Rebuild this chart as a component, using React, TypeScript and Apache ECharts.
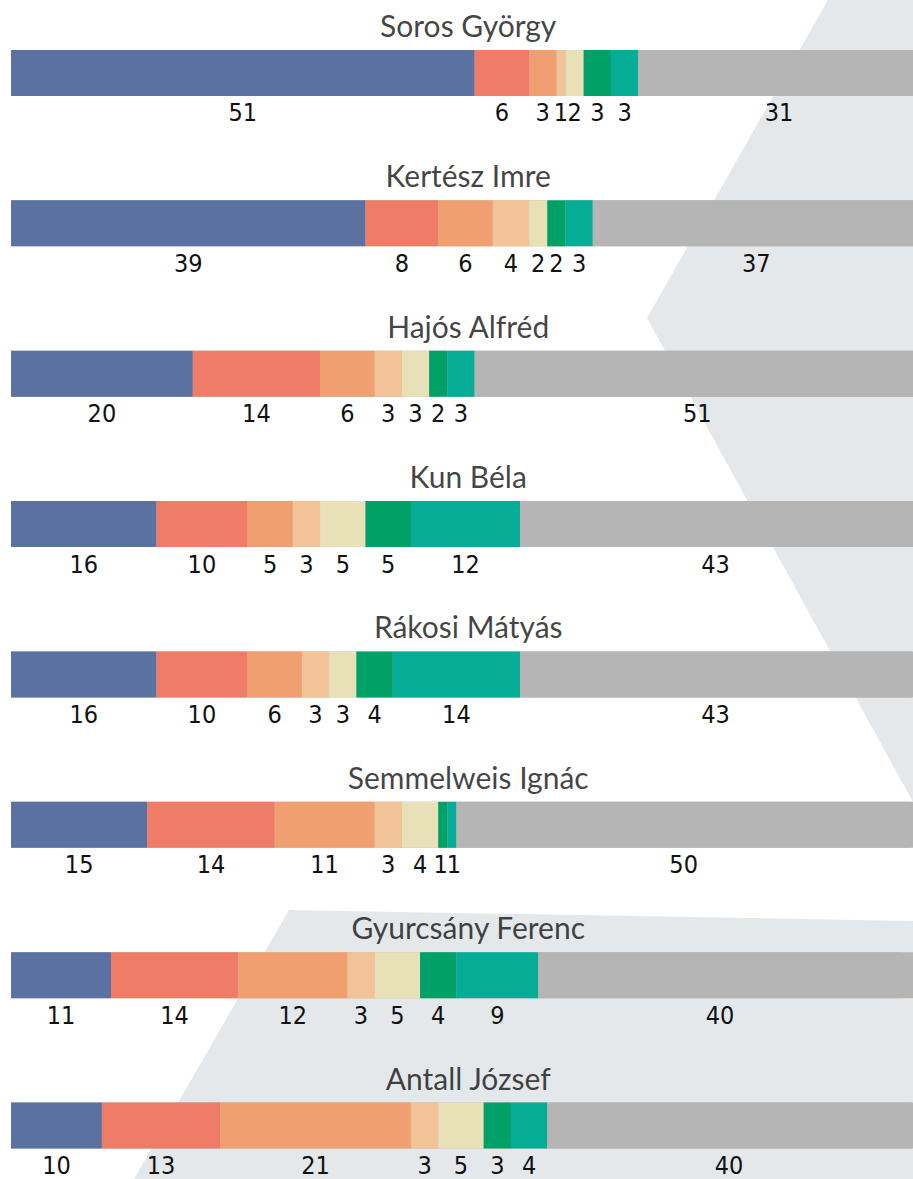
import React, { useEffect, useRef } from "react";
import * as echarts from "echarts";

const categories = [
  "Soros György",
  "Kertész Imre",
  "Hajós Alfréd",
  "Kun Béla",
  "Rákosi Mátyás",
  "Semmelweis Ignác",
  "Gyurcsány Ferenc",
  "Antall József",
];

const seg1 = [51, 39, 20, 16, 16, 15, 11, 10];
const seg2 = [6, 8, 14, 10, 10, 14, 14, 13];
const seg3 = [3, 6, 6, 5, 6, 11, 12, 21];
const seg4 = [1, 4, 3, 3, 3, 3, 3, 3];
const seg5 = [2, 2, 3, 5, 3, 4, 5, 5];
const seg6 = [3, 2, 2, 5, 4, 1, 4, 3];
const seg7 = [3, 3, 3, 12, 14, 1, 9, 4];
const seg8 = [31, 37, 51, 43, 43, 50, 40, 40];

const segments = [seg1, seg2, seg3, seg4, seg5, seg6, seg7, seg8];
const segNames = ["1", "2", "3", "4", "5", "6", "7", "8"];
const colors = [
  "#5a71a2",
  "#ef7c66",
  "#f0a070",
  "#f2c396",
  "#e8e1b8",
  "#00a066",
  "#05ac96",
  "#b5b5b5",
];

const TITLE_X = 50.3;
const LABEL_FONT =
  "'Liberation Sans Narrow', 'DejaVu Sans Condensed', 'Roboto Condensed', 'Open Sans Condensed', 'Liberation Sans', sans-serif";

export default function App() {
  const ref = useRef<HTMLDivElement>(null);

  useEffect(() => {
    document.body.style.margin = "0";
    if (!ref.current) return;
    const chart = echarts.init(ref.current, undefined, { renderer: "svg" });

    const barSeries = segments.map((vals, k) => ({
      type: "bar",
      name: segNames[k],
      stack: "total",
      barWidth: 46,
      showBackground: k === 0,
      backgroundStyle: { color: colors[7] },
      data: vals.map((v, i) => {
        // tiny nudges so adjacent 1-unit labels do not collide
        let off = 0;
        if (k === 5 && i === 5) off = -2;
        if (k === 6 && i === 5) off = 2;
        return off ? { value: v, label: { offset: [off, 0] } } : v;
      }),
      itemStyle: { color: colors[k] },
      z: 2,
      label: {
        show: true,
        position: "bottom",
        distance: 7,
        lineHeight: 20,
        color: "#111",
        fontFamily: LABEL_FONT,
        fontSize: 25,
        formatter: (p: any) => String(p.value),
      },
    }));

    const titleSeries = {
      type: "scatter",
      silent: true,
      symbolSize: 0,
      z: 3,
      data: categories.map((c) => [TITLE_X, c]),
      label: {
        show: true,
        position: "inside",
        offset: [0, -48],
        color: "#111",
        fontFamily: "Lato",
        fontSize: 30,
        formatter: (p: any) => p.value[1],
      },
    };

    chart.setOption({
      animation: false,
      backgroundColor: "#ffffff",
      graphic: [
        {
          type: "polygon",
          z: -10,
          silent: true,
          shape: {
            points: [
              [828, 0],
              [647, 318],
              [913, 802],
              [913, 0],
            ],
          },
          style: { fill: "#e5e8eb" },
        },
        {
          type: "polygon",
          z: -10,
          silent: true,
          shape: {
            points: [
              [289, 910],
              [913, 921],
              [913, 1179],
              [134, 1179],
            ],
          },
          style: { fill: "#e5e8eb" },
        },
      ],
      grid: {
        left: 11,
        width: 909,
        top: -2.2,
        height: 1202.9,
        outerBoundsMode: "none",
        containLabel: false,
      },
      xAxis: { type: "value", min: 0, max: 100, show: false },
      yAxis: {
        type: "category",
        data: categories,
        inverse: true,
        show: false,
      },
      series: [...barSeries, titleSeries],
    });

    return () => chart.dispose();
  }, []);

  return <div ref={ref} style={{ width: 913, height: 1179 }} />;
}
